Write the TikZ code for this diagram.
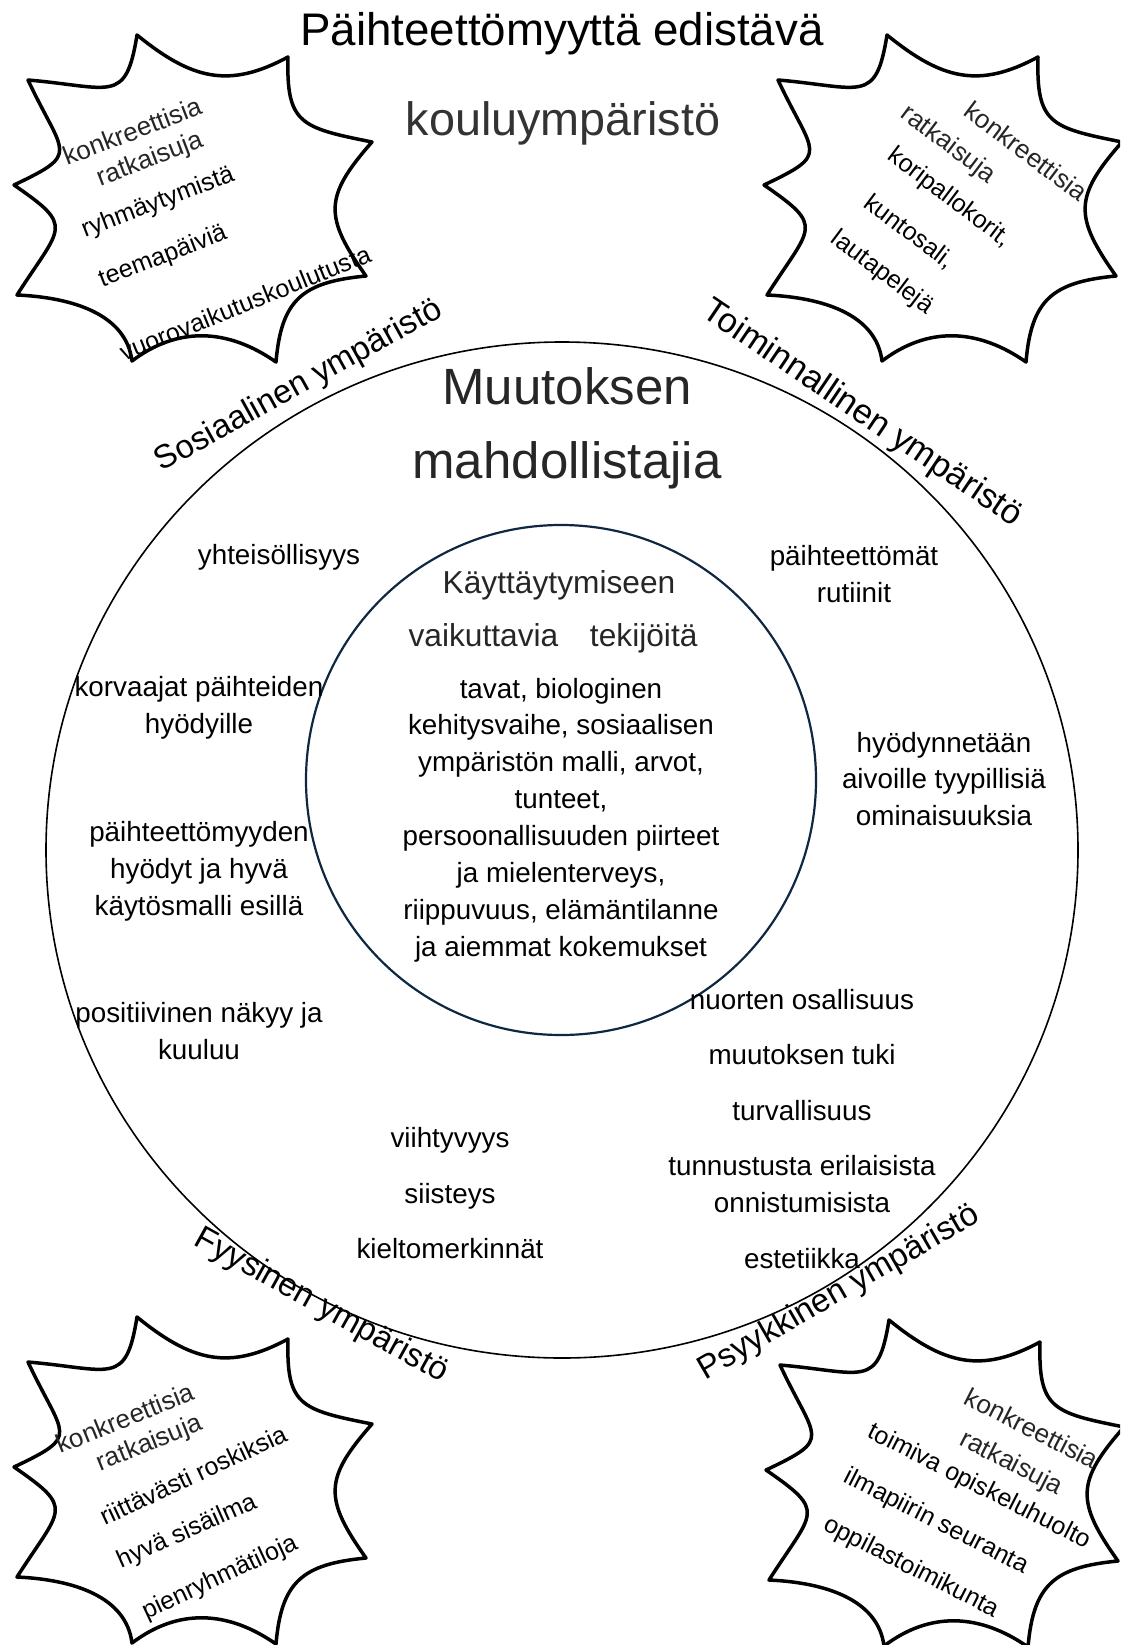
\documentclass[tikz,border=0pt]{standalone}
\usepackage{fontspec}
\setmainfont{Liberation Sans}
\usetikzlibrary{calc}
\definecolor{innerblue}{HTML}{0E2841}

\begin{document}
\begin{tikzpicture}[x=1pt,y=-1pt,
    txt/.style={align=center,inner sep=0pt,font=\fontsize{27.8}{36.9}\selectfont},
    item/.style={align=center,inner sep=0pt,font=\fontsize{25}{30}\selectfont},
    solhead/.style={inner sep=0pt,font=\fontsize{26}{30}\selectfont,text=black!85},
    bighead/.style={inner sep=0pt,font=\fontsize{51}{60}\selectfont,text=black!85},
    envlabel/.style={inner sep=0pt,font=\fontsize{33}{40}\selectfont},
    burst/.pic={
        \coordinate (-c) at (200,200);
        \coordinate (-t1) at (137,35);
        \coordinate (-t2) at (288,57);
        \coordinate (-t3) at (372,142);
        \coordinate (-t4) at (366,276);
        \coordinate (-t5) at (276,362);
        \coordinate (-t6) at (132,361);
        \coordinate (-t7) at (17,295);
        \coordinate (-t8) at (14,185);
        \coordinate (-t9) at (28,80);
        \draw[line width=3.5pt,line join=round,fill=white] (-t1)
            foreach \i/\j/\f in {1/2/0.4,2/3/0.4,3/4/0.4,4/5/0.35,5/6/0.33,6/7/0.27,7/8/0.4,8/9/0.4,9/1/0.4}
            { .. controls ($(-t\i)!\f!30:(-c)$) and ($(-t\j)!\f!-30:(-c)$) .. (-t\j) } -- cycle;
    }]

    \useasboundingbox (0,0) rectangle (1120,1645);
    \clip (0,0) rectangle (1120,1645);

    % circles
    \draw[line width=1.6pt] (562,850) ellipse [x radius=516, y radius=508];
    \draw[line width=2.2pt,innerblue] (561,780) circle [radius=255];

    % the four bursts
    \pic (b1) at (0,0) {burst};
    \pic (b2) at (750,0) {burst};
    \pic (b3) at (0,1282) {burst};
    \pic (b4) at (752,1285) {burst};

    % headings
    \node[inner sep=0pt,font=\fontsize{45.7}{50}\selectfont] (1) at (562,34) {Päihteettömyyttä edistävä};
    \node[inner sep=0pt,font=\fontsize{46.8}{50}\selectfont,text=black!80] (2) at (563,123) {kouluympäristö};
    \node[bighead] (3) at (567,386) {Muutoksen};
    \node[bighead] (4) at (567,465) {mahdollistajia};
    \node[inner sep=0pt,font=\fontsize{31.7}{36}\selectfont,text=black!85] (5) at (559,585) {Käyttäytymiseen};
    \node[inner sep=0pt,font=\fontsize{31.7}{36}\selectfont,text=black!85] (6) at (553,638) {vaikuttavia\quad tekijöitä};

    % inner circle
    \node[txt] (7) at (561,820) {tavat, biologinen\\kehitysvaihe, sosiaalisen\\ympäristön malli, arvot,\\tunteet,\\persoonallisuuden piirteet\\ja mielenterveys,\\riippuvuus, elämäntilanne\\ja aiemmat kokemukset};

    % outer ring
    \node[txt] (8) at (279,557) {yhteisöllisyys};
    \node[txt] (9) at (854,574) {päihteettömät\\rutiinit};
    \node[txt] (10) at (199,708) {korvaajat päihteiden\\hyödyille};
    \node[txt] (11) at (944,779) {hyödynnetään\\aivoille tyypillisiä\\ominaisuuksia};
    \node[txt] (12) at (199,871) {päihteettömyyden\\hyödyt ja hyvä\\käytösmalli esillä};
    \node[txt] (13) at (199,1031) {positiivinen näkyy ja\\kuuluu};
    \node[txt] (14) at (802,1000) {nuorten osallisuus};
    \node[txt] (15) at (802,1055) {muutoksen tuki};
    \node[txt] (16) at (802,1111) {turvallisuus};
    \node[txt] (17) at (802,1184) {tunnustusta erilaisista\\onnistumisista};
    \node[txt] (18) at (802,1259) {estetiikka};
    \node[txt] (19) at (450,1140) {viihtyvyys};
    \node[txt] (20) at (450,1196) {siisteys};
    \node[txt] (21) at (450,1249) {kieltomerkinnät};

    % environment labels
    \node[envlabel,rotate=29] (22) at (299,386) {Sosiaalinen ympäristö};
    \node[envlabel,rotate=-34,font=\fontsize{34.5}{40}\selectfont] (23) at (862,414) {Toiminnallinen ympäristö};
    \node[envlabel,rotate=-29] (24) at (321,1306) {Fyysinen ympäristö};
    \node[envlabel,rotate=30] (25) at (839,1293) {Psyykkinen ympäristö};

    % burst texts
    \node[solhead,rotate=21] (26) at (132,131) {konkreettisia};
    \node[solhead,rotate=21] (27) at (150,160) {ratkaisuja};
    \node[item,rotate=21] (28) at (158,203) {ryhmäytymistä};
    \node[item,rotate=21] (29) at (163,257) {teemapäiviä};
    \node[item,rotate=22] (30) at (245,303) {vuorovaikutuskoulutusta};

    \node[solhead,rotate=-37] (31) at (1026,151) {konkreettisia};
    \node[solhead,rotate=-37] (32) at (948,145) {ratkaisuja};
    \node[item,rotate=-37] (33) at (949,198) {koripallokorit,};
    \node[item,rotate=-37] (34) at (909,232) {kuntosali,};
    \node[item,rotate=-37] (35) at (882,273) {lautapelejä};

    \node[solhead,rotate=22] (36) at (125,1418) {konkreettisia};
    \node[solhead,rotate=22] (37) at (150,1444) {ratkaisuja};
    \node[item,rotate=25] (38) at (193,1475) {riittävästi roskiksia};
    \node[item,rotate=24] (39) at (187,1532) {hyvä sisäilma};
    \node[item,rotate=25] (40) at (220,1578) {pienryhmätiloja};

    \node[solhead,rotate=-27] (41) at (1032,1428) {konkreettisia};
    \node[solhead,rotate=-27] (42) at (1011,1464) {ratkaisuja};
    \node[item,rotate=-27] (43) at (979,1487) {toimiva opiskeluhuolto};
    \node[item,rotate=-27] (44) at (936,1522) {ilmapiirin seuranta};
    \node[item,rotate=-27] (45) at (911,1568) {oppilastoimikunta};
\end{tikzpicture}
\end{document}
